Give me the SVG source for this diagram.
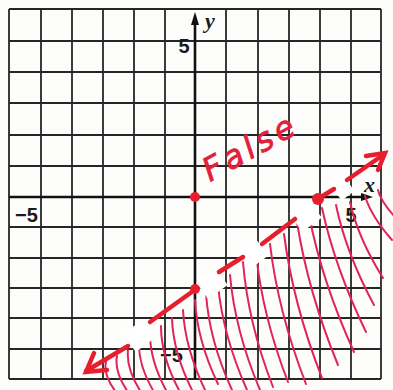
<svg xmlns="http://www.w3.org/2000/svg" width="393" height="390" viewBox="0 0 393 390">
<style>
.grid line{stroke:#262626;stroke-width:1.8}
.axis{stroke:#111;stroke-width:2.6}
.lbl{font-family:"Liberation Sans",Arial,sans-serif;font-weight:bold;font-size:20px;fill:#1a1a1a}
.var{font-family:"Liberation Serif","Times New Roman",serif;font-weight:bold;font-style:italic;font-size:22px;fill:#1a1a1a}
.hatch path{fill:none;stroke:#e0245a;stroke-width:2;stroke-linecap:round}
.dash{stroke:#e61e2d;stroke-width:4.5;stroke-linecap:round;fill:none}
.gap{fill:#fff}
.dot{fill:#e61e2d}
</style>
<rect width="393" height="390" fill="#fdfdfb"/>
<g id="grid" class="grid">
<line x1="9" y1="9" x2="9" y2="379"/><line x1="41" y1="9" x2="41" y2="379"/><line x1="72" y1="9" x2="72" y2="379"/><line x1="103" y1="9" x2="103" y2="379"/><line x1="134" y1="9" x2="134" y2="379"/><line x1="165" y1="9" x2="165" y2="379"/><line x1="226" y1="9" x2="226" y2="379"/><line x1="258" y1="9" x2="258" y2="379"/><line x1="289" y1="9" x2="289" y2="379"/><line x1="320" y1="9" x2="320" y2="379"/><line x1="351" y1="9" x2="351" y2="379"/><line x1="381" y1="9" x2="381" y2="379"/>
<line x1="9" y1="9" x2="381" y2="9"/><line x1="9" y1="41" x2="381" y2="41"/><line x1="9" y1="72" x2="381" y2="72"/><line x1="9" y1="103" x2="381" y2="103"/><line x1="9" y1="135" x2="381" y2="135"/><line x1="9" y1="166" x2="381" y2="166"/><line x1="9" y1="227" x2="381" y2="227"/><line x1="9" y1="258" x2="381" y2="258"/><line x1="9" y1="288" x2="381" y2="288"/><line x1="9" y1="318" x2="381" y2="318"/><line x1="9" y1="349" x2="381" y2="349"/><line x1="9" y1="379" x2="381" y2="379"/>
</g>
<g id="axes">
<line class="axis" x1="195" y1="379" x2="195" y2="18"/>
<polygon points="195,12 191,25 199,25" fill="#111"/>
<line class="axis" x1="9" y1="197" x2="366" y2="197"/>
<polygon points="373,197 361,193 361,201" fill="#111"/>
</g>
<g id="labels">
<text class="lbl" x="184" y="53" text-anchor="middle">5</text>
<text class="var" x="205" y="28">y</text>
<text class="lbl" x="15" y="222">−5</text>
<text class="var" x="364" y="192">x</text>
<text class="lbl" x="351" y="222" text-anchor="middle">5</text>
<text class="lbl" x="160" y="362">−5</text>
</g>
<g id="shading" class="hatch">
<path d="M106 362Q103 375 116 392"/><path d="M117 356Q114 372 128 392"/><path d="M128 350Q126 369 141 392"/><path d="M139 342Q138 365 154 392"/><path d="M150 334Q150 361 167 392"/><path d="M161 326Q161 357 180 392"/><path d="M172 318Q173 353 193 392"/><path d="M183 310Q185 349 206 392"/><path d="M195 300Q197 340 218 384"/><path d="M206 293Q209 340 232 390"/><path d="M218 285Q223 336 247 390"/><path d="M230 275Q235 331 260 390"/><path d="M243 262Q248 323 273 387"/><path d="M256 252Q262 315 288 382"/><path d="M270 244Q278 312 306 384"/><path d="M284 234Q293 304 322 378"/><path d="M297 222Q308 292 338 365"/><path d="M309 215Q322 282 354 352"/><path d="M322 208Q335 268 366 332"/><path d="M336 205Q346 253 374 305"/><path d="M350 202Q358 238 383 278"/><path d="M365 196Q371 216 392 240"/><path d="M378 190Q381 202 396 218"/>
</g>
<g id="erasures">
<rect class="gap" x="-12" y="-11" width="24" height="22" transform="translate(139 336) rotate(-36)"/>
<rect class="gap" x="-12" y="-10" width="24" height="20" transform="translate(212 284) rotate(-36)"/>
<rect class="gap" x="-12" y="-10" width="22" height="22" transform="translate(253 252) rotate(-36)"/>
<rect class="gap" x="-12" y="-10" width="24" height="22" transform="translate(305 215) rotate(-36)"/>
<rect class="gap" x="-8" y="-10" width="16" height="22" transform="translate(341 186) rotate(-36)"/>
</g>
<g id="connectors">
<line class="dash" x1="86" y1="371" x2="128" y2="346"/>
<line class="dash" x1="150" y1="322" x2="196" y2="289"/>
<line class="dash" x1="219" y1="272" x2="243" y2="257"/>
<line class="dash" x1="262" y1="244" x2="295" y2="219"/>
<line class="dash" x1="316" y1="200" x2="334" y2="189"/>
<line class="dash" x1="347" y1="180" x2="383" y2="155"/>
<polyline class="dash" points="107,370 86,372 94,353" stroke-width="3"/>
<polyline class="dash" points="366,156 385,153 378,170" stroke-width="3"/>
</g>
<g id="points">
<circle class="dot" cx="195" cy="197" r="5"/>
<circle class="dot" cx="318" cy="199" r="6"/>
<circle class="dot" cx="195" cy="289" r="5"/>
</g>
<text x="210" y="182" transform="rotate(-29 210 182)" font-family="DejaVu Sans,sans-serif" font-style="italic" font-size="32" fill="#e3203a" stroke="#e3203a" stroke-width="0.8" textLength="100" lengthAdjust="spacing">False</text>
</svg>
